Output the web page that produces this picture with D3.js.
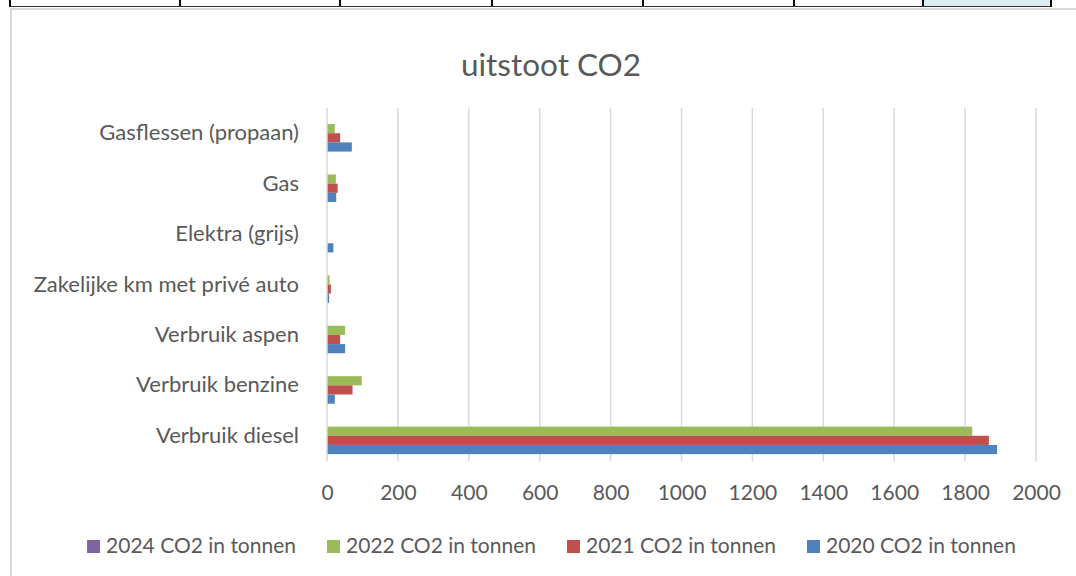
<!DOCTYPE html>
<html>
<head>
<meta charset="utf-8">
<script src="https://cdn.jsdelivr.net/npm/d3@7"></script>
<style>
  body { margin: 0; background: #fff; }
  svg { display: block; font-family: Lato, "Open Sans", sans-serif; }
</style>
</head>
<body>
<div id="chart"></div>
<script>
// Categories, top to bottom as shown
const categories = [
  "Gasflessen (propaan)",
  "Gas",
  "Elektra (grijs)",
  "Zakelijke km met privé auto",
  "Verbruik aspen",
  "Verbruik benzine",
  "Verbruik diesel"
];

// CO2 in tonnen per year (2024 has no values yet)
const co2_2024 = [null, null, null, null, null, null, null];
const co2_2022 = [22, 25, null, 7, 51, 98, 1820];
const co2_2021 = [37, 30, null, 11, 37, 72, 1867];
const co2_2020 = [70, 26, 18, 6, 51, 22, 1890];

const seriesNames = ["2024 CO2 in tonnen", "2022 CO2 in tonnen", "2021 CO2 in tonnen", "2020 CO2 in tonnen"];
const seriesValues = [co2_2024, co2_2022, co2_2021, co2_2020];
const seriesColors = ["#8064A2", "#9BBB59", "#C0504D", "#4F81BD"];

const xTicks = [0, 200, 400, 600, 800, 1000, 1200, 1400, 1600, 1800, 2000];

const width = 1076, height = 576;
const margins = {top: 108, right: 40, bottom: 115, left: 327};

const svg = d3.select("#chart")
  .append("svg")
  .attr("width", width)
  .attr("height", height)
  .attr("viewBox", [0, 0, width, height]);

/* spreadsheet cells peeking above the chart */
const cellEdges = [10, 180, 340, 492, 643, 794, 923, 1051];
svg.append("rect")
  .attr("x", 923).attr("y", 0)
  .attr("width", 1051 - 923).attr("height", 6)
  .attr("fill", "#DAEEF3");
svg.selectAll("line.cell")
  .data(cellEdges)
  .join("line")
    .attr("class", "cell")
    .attr("x1", d => d).attr("x2", d => d)
    .attr("y1", 0).attr("y2", 7)
    .attr("stroke", "#000")
    .attr("stroke-width", 2);
svg.append("line")
  .attr("x1", 10).attr("x2", 1051)
  .attr("y1", 6.5).attr("y2", 6.5)
  .attr("stroke", "#333")
  .attr("stroke-width", 1);

/* chart area */
svg.append("rect")
  .attr("x", 11).attr("y", 9)
  .attr("width", width + 20).attr("height", height)
  .attr("fill", "#fff")
  .attr("stroke", "#D9D9D9")
  .attr("stroke-width", 2);

/* scales */
const xScale = d3.scaleLinear()
  .domain([0, 2000])
  .range([margins.left, 1036]);

const yScale = d3.scaleBand()
  .domain(categories)
  .range([margins.top, height - margins.bottom]);

const ySub = d3.scaleBand()
  .domain(seriesNames)
  .range([0, yScale.bandwidth()])
  .paddingOuter(0.75);

/* gridlines */
svg.append("g")
  .selectAll("line")
  .data(xTicks.slice(1))
  .join("line")
    .attr("x1", d => xScale(d)).attr("x2", d => xScale(d))
    .attr("y1", yScale.range()[0]).attr("y2", yScale.range()[1])
    .attr("stroke", "#D9D9D9")
    .attr("stroke-width", 1.5);

/* bars */
const groups = svg.append("g")
  .selectAll("g")
  .data(seriesNames.map((name, i) => ({name, values: seriesValues[i], color: seriesColors[i]})))
  .join("g")
    .attr("fill", d => d.color);

groups.selectAll("rect")
  .data(s => categories.map((c, j) => ({c, v: s.values[j], name: s.name})).filter(d => d.v != null))
  .join("rect")
    .attr("x", xScale(0))
    .attr("y", d => yScale(d.c) + ySub(d.name))
    .attr("width", d => xScale(d.v) - xScale(0))
    .attr("height", ySub.bandwidth());

/* category axis line */
svg.append("line")
  .attr("x1", xScale(0)).attr("x2", xScale(0))
  .attr("y1", yScale.range()[0]).attr("y2", yScale.range()[1])
  .attr("stroke", "#D9D9D9")
  .attr("stroke-width", 1.5);

/* x axis */
const xAxis = svg.append("g")
  .attr("transform", `translate(0,${yScale.range()[1]})`)
  .call(d3.axisBottom(xScale).tickValues(xTicks).tickFormat(d3.format("d")).tickSize(0).tickPadding(24));
xAxis.select(".domain").remove();
xAxis.selectAll("text")
  .style("font-family", "Lato, sans-serif")
  .style("font-size", "21px")
  .attr("fill", "#595959");

/* y axis labels */
const yAxis = svg.append("g")
  .attr("transform", `translate(${xScale(0)},0)`)
  .call(d3.axisLeft(yScale).tickSize(0).tickPadding(28));
yAxis.select(".domain").remove();
yAxis.selectAll("text")
  .style("font-family", "Lato, sans-serif")
  .style("font-size", "22px")
  .attr("fill", "#595959");

/* title */
svg.append("text")
  .attr("x", 551)
  .attr("y", 76)
  .attr("text-anchor", "middle")
  .style("font-size", "31.5px")
  .attr("fill", "#595959")
  .text("uitstoot CO2");

/* legend */
const legend = svg.append("g").attr("transform", "translate(0,546)");
const items = legend.selectAll("g")
  .data(seriesNames.map((n, i) => ({n, color: seriesColors[i]})))
  .join("g");
items.append("rect")
  .attr("width", 13).attr("height", 13)
  .attr("y", -6)
  .attr("fill", d => d.color);
items.append("text")
  .attr("x", 19)
  .attr("dy", "0.35em")
  .style("font-size", "21px")
  .attr("fill", "#595959")
  .text(d => d.n);
const itemWidths = items.nodes().map(n => n.getBBox().width);
const gap = 31;
const total = d3.sum(itemWidths) + gap * (itemWidths.length - 1);
let xPos = 551.5 - total / 2;
items.attr("transform", (d, i) => {
  const t = `translate(${xPos},0)`;
  xPos += itemWidths[i] + gap;
  return t;
});
</script>
</body>
</html>
